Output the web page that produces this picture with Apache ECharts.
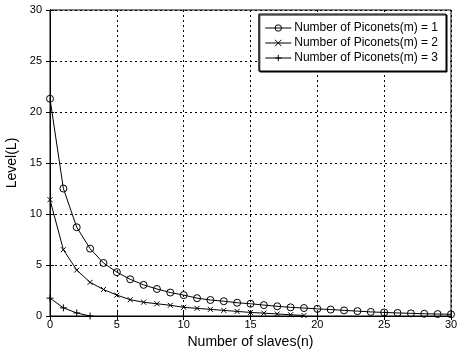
<!DOCTYPE html>
<html>
<head>
<meta charset="utf-8">
<script src="https://cdn.jsdelivr.net/npm/echarts@6/dist/echarts.min.js"></script>
<style>
  html, body { margin: 0; padding: 0; background: #fff; }
  #chart { width: 461px; height: 350px; }
</style>
</head>
<body>
<div id="chart"></div>
<script>
// values, index = number of slaves n
const seriesNames = ['Number of Piconets(m) = 1', 'Number of Piconets(m) = 2', 'Number of Piconets(m) = 3'];
const piconet1 = [21.3, 12.5, 8.7, 6.6, 5.2, 4.3, 3.6, 3.05, 2.65, 2.3, 2.05, 1.75, 1.57, 1.45, 1.3,
  1.2, 1.07, 0.95, 0.85, 0.78, 0.7, 0.63, 0.55, 0.48, 0.4, 0.35, 0.3, 0.26, 0.22, 0.19, 0.17];
const piconet2 = [11.4, 6.5, 4.5, 3.3, 2.6, 2.05, 1.6, 1.35, 1.2, 1.05, 0.85, 0.75, 0.65, 0.55, 0.45,
  0.35, 0.28, 0.2, 0.12, 0.05];
const piconet3 = [1.75, 0.8, 0.3, 0];

const xTicks = [0, 5, 10, 15, 20, 25, 30];
const yTicks = [0, 5, 10, 15, 20, 25, 30];

function toPairs(arr) {
  return arr.map((v, i) => [i, v]);
}

const font = 'Liberation Sans, Arial, sans-serif';
const crossPath = 'path://M0 0 L10 10 M10 0 L0 10';
const plusPath = 'path://M5 0 L5 10 M0 5 L10 5';

const chart = echarts.init(document.getElementById('chart'), null, { renderer: 'canvas' });

const gridLine = { show: true, lineStyle: { color: '#000', type: [2, 3], width: 1 } };
const tickIn = { show: true, inside: true, length: 4, lineStyle: { color: '#000' } };

chart.setOption({
  animation: false,
  backgroundColor: '#fff',
  textStyle: { fontFamily: font, color: '#000' },
  grid: {
    left: 50, right: 10, top: 10, bottom: 34,
    containLabel: false, outerBoundsMode: 'none',
    show: true, borderColor: '#000', borderWidth: 1
  },
  legend: {
    orient: 'vertical',
    right: 15,
    top: 14,
    padding: [7, 8, 6, 6],
    itemGap: 1,
    itemWidth: 26,
    itemHeight: 8,
    backgroundColor: '#fff',
    borderColor: '#000',
    borderWidth: 1,
    shadowColor: '#000',
    shadowBlur: 0,
    shadowOffsetX: 1,
    shadowOffsetY: 1,
    lineStyle: { width: 1, color: '#000' },
    itemStyle: { borderWidth: 1, borderColor: '#000' },
    textStyle: { fontFamily: font, fontSize: 12, lineHeight: 14, color: '#000', padding: [0, 0, 0, -2] },
    data: seriesNames
  },
  xAxis: [{
    type: 'value',
    min: 0, max: 30, interval: 5,
    name: 'Number of slaves(n)',
    nameLocation: 'middle',
    nameGap: 19,
    nameTextStyle: { fontSize: 14, color: '#000' },
    axisLine: { show: true, onZero: false, lineStyle: { color: '#000' } },
    axisTick: tickIn,
    axisLabel: { color: '#000', fontSize: 11, margin: 3, formatter: v => xTicks.includes(v) ? String(v) : '' },
    splitLine: gridLine
  }, {
    type: 'value', position: 'top',
    min: 0, max: 30, interval: 5,
    axisLine: { show: true, lineStyle: { color: '#000' } },
    axisTick: tickIn,
    axisLabel: { show: false },
    splitLine: { show: false }
  }],
  yAxis: [{
    type: 'value',
    min: 0, max: 30, interval: 5,
    name: 'Level(L)',
    nameLocation: 'middle',
    nameGap: 23,
    nameTextStyle: { fontSize: 14, color: '#000' },
    axisLine: { show: true, onZero: false, lineStyle: { color: '#000' } },
    axisTick: tickIn,
    axisLabel: { color: '#000', fontSize: 11, margin: 8, formatter: v => yTicks.includes(v) ? String(v) : '' },
    splitLine: gridLine
  }, {
    type: 'value', position: 'right',
    min: 0, max: 30, interval: 5,
    axisLine: { show: true, lineStyle: { color: '#000' } },
    axisTick: tickIn,
    axisLabel: { show: false },
    splitLine: { show: false }
  }],
  series: [
    {
      name: seriesNames[0],
      type: 'line',
      data: toPairs(piconet1),
      symbol: 'circle',
      symbolSize: 7,
      showAllSymbol: true,
      lineStyle: { color: '#000', width: 1 },
      itemStyle: { color: 'rgba(0,0,0,0)', borderColor: '#000', borderWidth: 1 },
      z: 3
    },
    {
      name: seriesNames[1],
      type: 'line',
      data: toPairs(piconet2),
      symbol: crossPath,
      symbolSize: 5,
      showAllSymbol: true,
      lineStyle: { color: '#000', width: 1 },
      itemStyle: { color: 'rgba(0,0,0,0)', borderColor: '#000', borderWidth: 1 },
      z: 3
    },
    {
      name: seriesNames[2],
      type: 'line',
      data: toPairs(piconet3),
      symbol: plusPath,
      symbolSize: 7,
      showAllSymbol: true,
      lineStyle: { color: '#000', width: 1 },
      itemStyle: { color: 'rgba(0,0,0,0)', borderColor: '#000', borderWidth: 1 },
      z: 3
    }
  ]
});
</script>
</body>
</html>
